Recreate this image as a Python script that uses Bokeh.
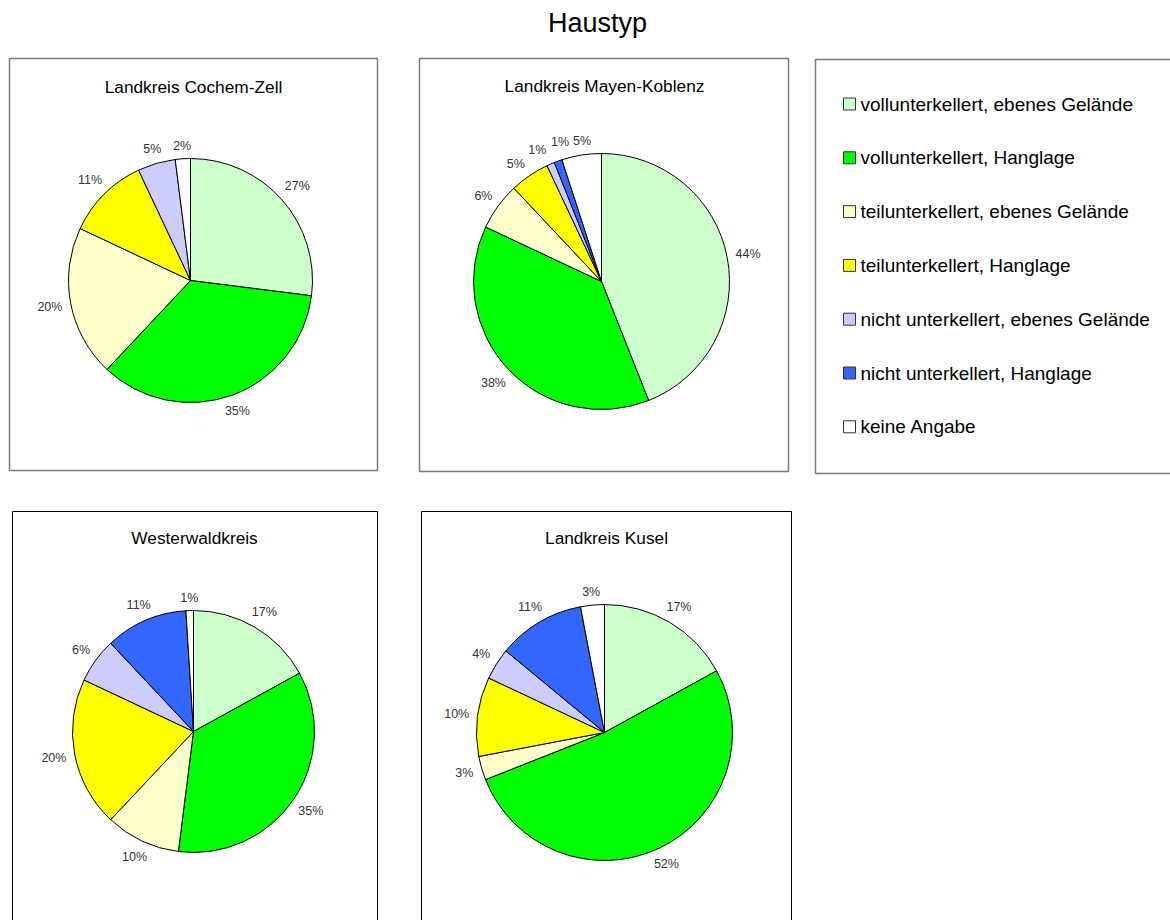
import math

from bokeh.core.properties import value
from bokeh.embed import file_html
from bokeh.models import ColumnDataSource, Range1d
from bokeh.plotting import figure
from bokeh.resources import INLINE

W, H = 1170, 920
FONT = "Liberation Sans"

# --- data -------------------------------------------------------------
categories = [
    "vollunterkellert, ebenes Gelände",
    "vollunterkellert, Hanglage",
    "teilunterkellert, ebenes Gelände",
    "teilunterkellert, Hanglage",
    "nicht unterkellert, ebenes Gelände",
    "nicht unterkellert, Hanglage",
    "keine Angabe",
]
colors = ["#CCFFCC", "#00FF00", "#FFFFCC", "#FFFF00", "#CCCCFF", "#3366FF", "#FFFFFF"]

districts = [
    "Landkreis Cochem-Zell",
    "Landkreis Mayen-Koblenz",
    "Westerwaldkreis",
    "Landkreis Kusel",
]
cochem_zell = [27, 35, 20, 11, 5, 0, 2]
mayen_koblenz = [44, 38, 6, 5, 1, 1, 5]
westerwald = [17, 35, 10, 20, 6, 11, 1]
kusel = [17, 52, 3, 10, 4, 11, 3]
shares = [cochem_zell, mayen_koblenz, westerwald, kusel]

# --- layout (screen pixels, y grows downwards) -------------------------
panels = [
    dict(box=(9, 58, 377, 470), center=(190, 280), r=122, title_xy=(193, 86), border="#7a7a7a", bw=1.5),
    dict(box=(419, 58, 788, 471), center=(601, 281), r=128, title_xy=(604, 85), border="#7a7a7a", bw=1.5),
    dict(box=(12, 511, 377, 940), center=(193, 731), r=121, title_xy=(194, 537), border="#000000", bw=1),
    dict(box=(421, 511, 791, 940), center=(604, 732), r=128, title_xy=(606, 537), border="#000000", bw=1),
]
legend_box = (815, 59, 1185, 473)
legend_x, legend_y0, legend_dy = 849, 103.5, 53.8

LABEL_FS = 12.5
LABEL_GAP = 8
LABEL_SPACING = 3.5


def label_size(txt):
    w = (0.556 * (len(txt) - 1) + 0.889) * LABEL_FS
    h = 0.9 * LABEL_FS
    return w, h


def label_pos(cx, cy, rad, ang, extra, txt):
    """Centre of an outside label whose box sits just off the rim."""
    w, h = label_size(txt)
    sx, sy = math.sin(ang), -math.cos(ang)
    d = rad + LABEL_GAP + extra + 0.5 * w * abs(sx) + 0.4 * h * abs(sy)
    return cx + d * sx, cy + d * sy


def overlaps(a, b, ta, tb):
    wa, ha = label_size(ta)
    wb, hb = label_size(tb)
    return (abs(a[0] - b[0]) < 0.5 * (wa + wb) + LABEL_SPACING
            and abs(a[1] - b[1]) < 0.5 * (ha + hb) + LABEL_SPACING)


p = figure(
    width=W, height=H,
    x_range=Range1d(0, W), y_range=Range1d(H, 0),
    output_backend="svg", toolbar_location=None,
    min_border=0, x_axis_location=None, y_axis_location=None,
    outline_line_color=None, background_fill_color="white",
)
p.grid.grid_line_color = None

# overall title
p.text(x=[597], y=[22], text=["Haustyp"], text_font=value(FONT), text_font_size="27px",
       text_align="center", text_baseline="middle", text_color="black")

for panel, name, vals in zip(panels, districts, shares):
    l, t, r_, b = panel["box"]
    p.quad(left=[l], right=[r_], top=[t], bottom=[b], fill_color=None,
           line_color=panel["border"], line_width=panel["bw"])
    tx, ty = panel["title_xy"]
    p.text(x=[tx], y=[ty], text=[name], text_font=value(FONT), text_font_size="17.3px",
           text_align="center", text_baseline="middle", text_color="black")

    cx, cy = panel["center"]
    rad = panel["r"]
    total = float(sum(vals))
    starts, ends, fills, angs, texts = [], [], [], [], []
    cum = 0.0
    for v, c in zip(vals, colors):
        if v <= 0:
            continue
        c0, c1 = cum / total, (cum + v) / total
        cum += v
        # clockwise from 12 o'clock (screen angles, counter-clockwise positive)
        starts.append(math.pi / 2 - 2 * math.pi * c0)
        ends.append(math.pi / 2 - 2 * math.pi * c1)
        fills.append(c)
        angs.append(math.pi * (c0 + c1))
        texts.append(f"{v}%")

    # spread neighbouring labels apart until their boxes no longer collide
    extra = [0.0] * len(angs)
    for _ in range(300):
        pos = [label_pos(cx, cy, rad, a, e, tt) for a, e, tt in zip(angs, extra, texts)]
        moved = False
        for i in range(len(pos) - 1):
            if overlaps(pos[i], pos[i + 1], texts[i], texts[i + 1]):
                angs[i] -= 0.004
                angs[i + 1] += 0.004
                extra[i] += 0.1
                extra[i + 1] += 0.1
                moved = True
        if not moved:
            break
    pos = [label_pos(cx, cy, rad, a, e, tt) for a, e, tt in zip(angs, extra, texts)]

    src = ColumnDataSource(dict(start=starts, end=ends, fill=fills))
    p.wedge(x=cx, y=cy, radius=rad, start_angle="start", end_angle="end",
            direction="clock", fill_color="fill", line_color="black",
            line_width=1, source=src)
    p.text(x=[q[0] for q in pos], y=[q[1] for q in pos], text=texts,
           text_font=value(FONT), text_font_size=f"{LABEL_FS}px",
           text_align="center", text_baseline="middle", text_color="#333333")

# legend
l, t, r_, b = legend_box
p.quad(left=[l], right=[r_], top=[t], bottom=[b], fill_color=None,
       line_color="#7a7a7a", line_width=1.5)
ys = [legend_y0 + i * legend_dy for i in range(len(categories))]
p.rect(x=[legend_x] * len(categories), y=ys, width=12, height=12,
       fill_color=colors, line_color="#333333", line_width=1)
p.text(x=[legend_x + 11] * len(categories), y=ys, text=categories,
       text_font=value(FONT), text_font_size="19px",
       text_align="left", text_baseline="middle", text_color="black")

open("out.html", "w").write(file_html(p, INLINE))
